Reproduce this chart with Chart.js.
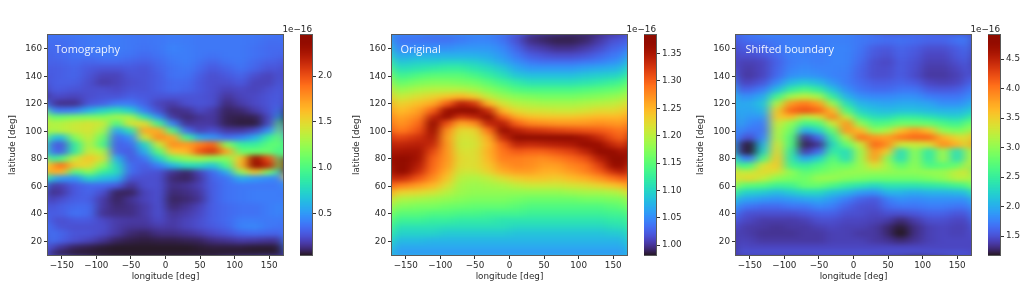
<!DOCTYPE html>
<html>
<head>
<meta charset="utf-8">
<title>Tomography / Original / Shifted boundary</title>
<script src="https://cdn.jsdelivr.net/npm/chart.js@4"></script>
<style>
  html, body { margin: 0; padding: 0; background: #fff; width: 1035px; height: 289px; overflow: hidden; }
  canvas { position: absolute; top: 0; }
  .tag { position: absolute; top: 41px; color: #fff; font: 11px "Open Sans", sans-serif; opacity: .92; }
  .exp { position: absolute; top: 24px; color: #262626; font: 8.8px "DejaVu Sans", sans-serif; text-align: right; }
</style>
</head>
<body>
<script>
/* ===== DATA ===== */
const lons = [-170,-150,-130,-110,-90,-70,-50,-30,-10,10,30,50,70,90,110,130,150,170];
const lats = [170,165,160,155,150,145,140,135,130,125,120,115,110,105,100,95,90,85,80,75,70,65,60,55,50,45,40,35,30,25,20,15,10];
const lonTicks = [-150,-100,-50,0,50,100,150];
const latTicks = [20,40,60,80,100,120,140,160];

// unit: 1e-18
const tomography = [
[37,37,38,39,39,39,39,39,39,39,39,39,39,39,39,39,37,37],
[36,36,37,39,40,40,39,38,39,41,40,39,39,39,39,38,36,36],
[35,35,37,39,40,40,39,37,39,43,41,39,39,39,39,37,35,35],
[33,35,37,37,39,39,37,35,37,41,41,39,37,39,39,37,35,33],
[31,33,35,33,35,35,33,31,35,39,41,37,33,37,39,35,31,31],
[29,31,33,29,27,27,29,27,33,37,39,35,29,33,37,33,27,29],
[29,31,33,27,21,21,27,27,31,37,37,31,25,29,33,25,21,29],
[31,31,31,25,19,21,25,27,31,35,35,29,25,25,29,21,21,31],
[31,29,27,25,25,23,27,27,31,35,33,29,25,21,23,21,25,31],
[25,23,21,25,27,27,31,29,27,27,27,27,25,17,21,23,27,31],
[20,15,15,28,32,40,40,32,21,19,25,27,25,13,19,23,27,34],
[48,38,42,60,75,85,72,42,26,14,16,23,19,10,12,19,26,42],
[105,110,115,118,118,130,130,85,48,18,12,16,18,9,8,9,22,60],
[130,135,140,145,140,100,145,150,95,42,16,18,18,9,7,7,24,105],
[125,135,140,145,130,55,85,170,170,100,36,20,26,18,18,24,48,120],
[70,65,120,140,110,36,48,140,180,170,95,56,50,36,42,58,90,120],
[36,28,90,135,100,32,36,75,140,180,175,185,195,120,90,90,105,110],
[38,32,90,140,130,34,30,58,105,160,165,200,210,170,110,110,110,90],
[75,100,140,160,145,60,30,38,72,110,125,130,120,120,160,235,200,95],
[160,190,155,150,120,75,36,30,42,62,78,78,68,100,165,245,215,110],
[175,165,100,120,90,80,36,28,26,16,11,21,36,58,125,160,115,60],
[70,52,48,75,65,60,26,25,25,12,10,18,33,38,58,52,46,42],
[16,20,30,35,35,30,16,25,25,14,16,20,31,37,39,39,39,39],
[12,18,29,33,25,10,10,21,25,12,14,18,31,37,39,41,41,41],
[18,25,31,31,19,10,16,21,25,10,12,16,31,37,39,41,41,41],
[25,31,35,35,18,12,14,19,25,12,16,21,31,35,37,37,41,45],
[29,31,37,35,16,14,14,19,25,16,19,23,31,35,37,37,41,45],
[29,25,29,29,23,19,18,18,23,18,21,25,31,35,41,41,39,41],
[35,27,25,25,25,19,16,16,19,18,21,25,29,33,43,45,39,37],
[39,33,27,27,23,18,12,10,14,14,16,19,23,27,33,35,33,31],
[41,31,25,21,16,10,8,7,8,8,9,10,14,16,19,18,16,16],
[26,16,10,8,6,5,5,5,5,5,5,6,7,7,7,6,6,7],
[12,7,5,5,5,5,5,5,5,5,5,5,5,5,5,5,5,5]
];

// unit: 1e-19
const original = [
[1035,1035,1035,1030,1030,1035,1040,1040,1030,1015,995,990,988,988,990,1000,1010,1015],
[1040,1040,1040,1040,1040,1045,1050,1050,1040,1020,1000,995,990,990,995,1005,1020,1025],
[1050,1050,1055,1055,1055,1060,1060,1060,1050,1030,1010,1005,1000,1000,1005,1015,1030,1035],
[1065,1070,1075,1075,1075,1075,1075,1070,1060,1040,1025,1020,1015,1015,1020,1030,1040,1050],
[1085,1090,1095,1095,1100,1100,1095,1085,1070,1055,1040,1035,1035,1035,1040,1045,1055,1065],
[1105,1110,1115,1120,1125,1125,1115,1105,1090,1070,1060,1060,1060,1060,1065,1070,1075,1085],
[1130,1135,1145,1150,1150,1150,1140,1125,1110,1090,1085,1085,1085,1085,1090,1095,1100,1110],
[1150,1160,1170,1175,1175,1170,1165,1150,1135,1120,1110,1110,1110,1110,1115,1120,1130,1140],
[1175,1185,1195,1200,1200,1200,1190,1175,1160,1145,1140,1140,1140,1140,1145,1150,1155,1165],
[1200,1210,1220,1230,1240,1250,1235,1205,1185,1175,1170,1165,1165,1165,1170,1175,1180,1190],
[1225,1235,1245,1260,1300,1345,1325,1250,1215,1200,1195,1190,1190,1190,1195,1200,1205,1215],
[1240,1250,1265,1300,1365,1384,1384,1330,1250,1225,1215,1215,1210,1210,1215,1225,1225,1235],
[1255,1265,1280,1340,1375,1325,1340,1380,1300,1260,1245,1240,1240,1240,1245,1250,1250,1250],
[1265,1275,1295,1375,1310,1260,1275,1340,1345,1300,1280,1275,1270,1270,1270,1275,1270,1265],
[1280,1290,1310,1365,1275,1225,1230,1290,1370,1345,1330,1325,1320,1315,1310,1305,1295,1280],
[1310,1320,1330,1350,1265,1215,1220,1260,1335,1384,1384,1384,1380,1375,1355,1335,1310,1290],
[1335,1340,1345,1335,1270,1212,1215,1250,1300,1340,1335,1340,1345,1350,1370,1365,1335,1315],
[1350,1355,1355,1315,1270,1218,1220,1255,1290,1305,1300,1300,1310,1320,1340,1375,1370,1345],
[1370,1375,1355,1300,1270,1225,1220,1250,1285,1285,1280,1275,1285,1295,1310,1345,1384,1380],
[1384,1375,1345,1295,1265,1222,1222,1240,1270,1280,1275,1265,1265,1280,1290,1320,1365,1380],
[1380,1370,1330,1290,1255,1212,1212,1230,1255,1265,1265,1255,1255,1265,1280,1300,1330,1355],
[1345,1330,1305,1275,1240,1200,1195,1205,1220,1235,1240,1240,1235,1245,1255,1270,1290,1310],
[1290,1280,1265,1250,1220,1190,1185,1190,1195,1205,1210,1210,1210,1215,1220,1230,1240,1255],
[1235,1230,1225,1215,1200,1185,1180,1180,1180,1180,1180,1180,1180,1185,1190,1190,1195,1205],
[1195,1195,1190,1185,1180,1175,1170,1170,1170,1165,1160,1160,1160,1160,1165,1165,1170,1170],
[1172,1172,1168,1168,1162,1158,1155,1155,1155,1150,1145,1145,1145,1145,1145,1145,1150,1155],
[1150,1150,1150,1145,1145,1140,1140,1135,1135,1135,1130,1130,1130,1130,1130,1130,1135,1135],
[1130,1130,1130,1125,1125,1120,1120,1120,1115,1115,1115,1115,1115,1115,1115,1115,1120,1120],
[1112,1112,1112,1112,1108,1108,1108,1108,1108,1102,1102,1102,1102,1102,1102,1102,1108,1108],
[1098,1098,1098,1098,1092,1092,1092,1092,1092,1088,1088,1088,1088,1088,1088,1088,1092,1092],
[1082,1082,1082,1078,1078,1078,1078,1078,1078,1078,1078,1078,1078,1078,1078,1078,1078,1078],
[1068,1068,1068,1068,1068,1068,1068,1068,1068,1068,1068,1068,1068,1068,1068,1068,1068,1068],
[1058,1058,1058,1058,1058,1058,1058,1058,1058,1058,1058,1058,1058,1058,1058,1058,1058,1058]
];

// unit: 1e-18
const shifted = [
[165,172,176,176,176,176,176,176,176,172,172,168,168,165,165,165,172,176],
[160,165,168,172,175,175,175,176,176,172,168,165,168,165,160,160,168,175],
[158,158,162,170,178,175,175,178,178,170,158,155,162,158,150,150,158,170],
[150,150,155,165,176,176,175,178,178,168,155,150,160,155,146,146,155,165],
[146,142,146,160,175,178,175,178,178,165,150,146,158,152,142,142,150,160],
[144,140,146,162,178,182,178,178,176,162,150,148,158,150,140,140,146,158],
[142,138,146,165,185,190,185,178,175,160,150,150,158,148,138,138,142,155],
[146,146,155,180,210,220,210,190,175,165,158,158,162,158,146,142,146,160],
[158,162,175,210,250,265,250,215,185,170,165,165,170,170,158,154,158,170],
[180,185,200,260,310,325,310,250,205,185,180,180,185,185,175,170,170,180],
[195,200,215,315,385,400,380,305,235,205,200,195,200,200,195,185,185,195],
[200,195,205,350,410,420,410,365,270,225,215,210,215,215,210,205,205,215],
[205,190,190,355,365,320,335,395,325,255,235,235,250,250,240,230,225,240],
[205,180,175,330,300,260,270,330,385,300,265,270,285,285,280,265,255,285],
[190,170,170,320,285,200,225,280,385,365,300,315,360,385,360,300,290,305],
[170,150,180,320,270,135,165,250,320,405,385,380,400,410,410,370,345,330],
[140,120,205,335,265,125,135,230,280,330,410,390,330,330,340,390,370,330],
[140,120,225,345,250,140,165,250,235,310,385,350,235,300,245,310,235,320],
[200,170,265,355,245,195,225,275,235,310,380,300,235,300,245,310,235,320],
[250,265,335,355,260,250,265,285,280,305,340,310,275,300,265,275,280,335],
[325,325,345,335,300,275,285,295,305,305,305,305,300,300,305,305,325,340],
[325,345,325,300,290,285,305,305,295,290,285,285,285,285,290,300,320,320],
[280,275,270,255,260,280,280,265,250,240,230,240,240,240,245,250,260,270],
[230,225,220,210,220,230,230,215,205,190,185,205,205,200,205,205,210,215],
[195,195,190,185,190,195,200,190,175,160,155,175,185,180,185,185,185,185],
[175,170,165,165,170,170,180,175,160,152,150,165,170,170,175,175,170,170],
[160,152,150,150,150,155,160,160,152,150,146,152,150,155,160,160,155,155],
[150,146,140,140,140,142,150,150,146,146,142,140,130,140,150,150,146,146],
[144,140,138,135,138,138,142,146,142,142,138,130,120,132,142,146,142,142],
[144,140,135,135,135,138,138,142,142,138,138,130,118,132,142,146,142,146],
[146,142,138,138,138,138,138,142,142,142,138,136,130,136,142,146,146,146],
[150,146,146,146,146,146,146,146,146,146,146,146,146,146,146,146,146,146],
[155,155,155,155,155,155,155,155,155,155,155,155,155,155,155,155,155,155]
];

const panels = [
  { name: 'Tomography', grid: tomography, left: 0, tagX: 55, barX: 300, unit: 100, cmin: 4.4, cmax: 245, ticks: [50,100,150,200], dec: 1 },
  { name: 'Original', grid: original, left: 344, tagX: 400.5, barX: 644, unit: 1000, cmin: 982, cmax: 1384, ticks: [1000,1050,1100,1150,1200,1250,1300,1350], dec: 2 },
  { name: 'Shifted boundary', grid: shifted, left: 688, tagX: 745.5, barX: 988, unit: 100, cmin: 117.8, cmax: 490.7, ticks: [150,200,250,300,350,400,450], dec: 1 }
];

/* ===== COLOURS (turbo) ===== */
function turbo(t) {
  const x = Math.max(0, Math.min(1, t));
  const r = 0.13572138 + x*(4.61539260 + x*(-42.66032258 + x*(132.13108234 + x*(-152.94239396 + x*59.28637943))));
  const g = 0.09140261 + x*(2.19418839 + x*(4.84296658 + x*(-14.18503333 + x*(4.27729857 + x*2.82956604))));
  const b = 0.10667330 + x*(12.64194608 + x*(-60.58204836 + x*(110.36276771 + x*(-89.90310912 + x*27.34824973))));
  const c = v => Math.round(255 * Math.max(0, Math.min(1, v)));
  return 'rgb(' + c(r) + ',' + c(g) + ',' + c(b) + ')';
}

// one small canvas per colour, used as pointStyle for the heatmap cells
const CELL_W = 15, CELL_H = 8;
const swatches = {};
function swatch(t) {
  const k = Math.round(Math.max(0, Math.min(1, t)) * 255);
  if (!swatches[k]) {
    const cv = document.createElement('canvas');
    cv.width = CELL_W; cv.height = CELL_H;
    const g = cv.getContext('2d');
    g.fillStyle = turbo(k / 255);
    g.fillRect(0, 0, CELL_W, CELL_H);
    swatches[k] = cv;
  }
  return swatches[k];
}

/* ===== PLUGINS ===== */
// smooth the drawn cells, the original is an interpolated image
const smoothCells = {
  id: 'smoothCells',
  afterDatasetsDraw(chart) {
    const a = chart.chartArea, w = Math.round(a.width), h = Math.round(a.height), m = 20;
    const mw = Math.round(w / 2);
    const pad = document.createElement('canvas');
    pad.width = mw + 2 * m; pad.height = h + 2 * m;
    const p = pad.getContext('2d');
    p.drawImage(chart.canvas, a.left, a.top, w, h, 0, 0, pad.width, pad.height);
    p.drawImage(chart.canvas, a.left, a.top, w, h, m, m, mw, h);
    const soft = document.createElement('canvas');
    soft.width = pad.width; soft.height = pad.height;
    const s = soft.getContext('2d');
    s.filter = 'blur(2.5px)';
    s.drawImage(pad, 0, 0);
    chart.ctx.drawImage(soft, m, m, mw, h, a.left, a.top, w, h);
  }
};

const frame = {
  id: 'frame',
  afterDraw(chart) {
    const a = chart.chartArea, c = chart.ctx;
    c.save();
    c.strokeStyle = '#5a5a5a';
    c.lineWidth = 1;
    c.strokeRect(Math.round(a.left) - .5, Math.round(a.top) - .5, Math.round(a.width) + 1, Math.round(a.height) + 1);
    c.restore();
  }
};

/* ===== CHARTS ===== */
const TXT = '#2b2b2b', FONT = { family: '"DejaVu Sans", sans-serif', size: 8.8 };
Chart.defaults.animation = false;
Chart.defaults.font.family = FONT.family;
Chart.defaults.font.size = FONT.size;
Chart.defaults.color = TXT;

function addCanvas(left, width) {
  const cv = document.createElement('canvas');
  cv.width = width; cv.height = 289;
  cv.style.left = left + 'px';
  document.body.appendChild(cv);
  return cv;
}
const minus = v => String(v).replace('-', '\u2212');

function axisTitle(text) {
  return { display: true, text: text, color: TXT, font: FONT, padding: { top: 7, bottom: 7 } };
}

panels.forEach(p => {
  const cells = [];
  p.grid.forEach((row, j) => row.forEach((v, i) => cells.push({ x: lons[i], y: lats[j], v: v })));

  new Chart(addCanvas(p.left, 292), {
    type: 'scatter',
    data: {
      datasets: [{
        data: cells,
        clip: 0,
        pointRadius: 8,
        pointStyle: c => swatch((c.raw.v - p.cmin) / (p.cmax - p.cmin))
      }]
    },
    options: {
      responsive: false, devicePixelRatio: 1,
      layout: { padding: { top: 35, right: 6, left: 0, bottom: 0 } },
      plugins: { legend: { display: false }, tooltip: { enabled: false } },
      scales: {
        x: {
          type: 'linear', min: -170, max: 170,
          afterBuildTicks: s => { s.ticks = lonTicks.map(v => ({ value: v })); },
          afterFit: s => { s.height = 34; },
          grid: { drawOnChartArea: false, tickLength: 4, tickColor: '#333' },
          border: { display: false },
          ticks: { padding: 1, maxRotation: 0, autoSkip: false, callback: minus },
          title: axisTitle('longitude [deg]')
        },
        y: {
          type: 'linear', min: 10, max: 170,
          afterBuildTicks: s => { s.ticks = latTicks.map(v => ({ value: v })); },
          afterFit: s => { s.width = 48; },
          grid: { drawOnChartArea: false, tickLength: 4, tickColor: '#333' },
          border: { display: false },
          ticks: { padding: 2, autoSkip: false },
          title: axisTitle('latitude [deg]')
        }
      }
    },
    plugins: [smoothCells, frame]
  });

  // colour bar
  const levels = [];
  for (let k = 0; k <= 220; k++) levels.push(p.cmin + (p.cmax - p.cmin) * k / 220);
  new Chart(addCanvas(p.barX, 45), {
    type: 'bar',
    data: {
      datasets: [{
        data: levels.map(v => ({ x: 1, y: v })),
        backgroundColor: levels.map(v => turbo((v - p.cmin) / (p.cmax - p.cmin))),
        barThickness: 2
      }]
    },
    options: {
      responsive: false, devicePixelRatio: 1, indexAxis: 'y',
      layout: { padding: { top: 35, bottom: 34 } },
      plugins: { legend: { display: false }, tooltip: { enabled: false } },
      scales: {
        x: { type: 'linear', min: 0, max: 1, display: false },
        y: {
          type: 'linear', position: 'right', min: p.cmin, max: p.cmax, offset: false,
          afterBuildTicks: s => { s.ticks = p.ticks.map(v => ({ value: v })); },
          afterFit: s => { s.width = 33; },
          grid: { drawOnChartArea: false, offset: false, tickLength: 4, tickColor: '#333' },
          border: { display: false },
          ticks: { padding: 2, autoSkip: false, callback: v => (v / p.unit).toFixed(p.dec) }
        }
      }
    },
    plugins: [frame]
  });

  const tag = document.createElement('div');
  tag.className = 'tag';
  tag.style.left = p.tagX + 'px';
  tag.textContent = p.name;
  document.body.appendChild(tag);

  const ex = document.createElement('div');
  ex.className = 'exp';
  ex.style.left = (p.barX - 20) + 'px';
  ex.style.width = '32px';
  ex.textContent = '1e\u221216';
  document.body.appendChild(ex);
});
</script>
</body>
</html>
